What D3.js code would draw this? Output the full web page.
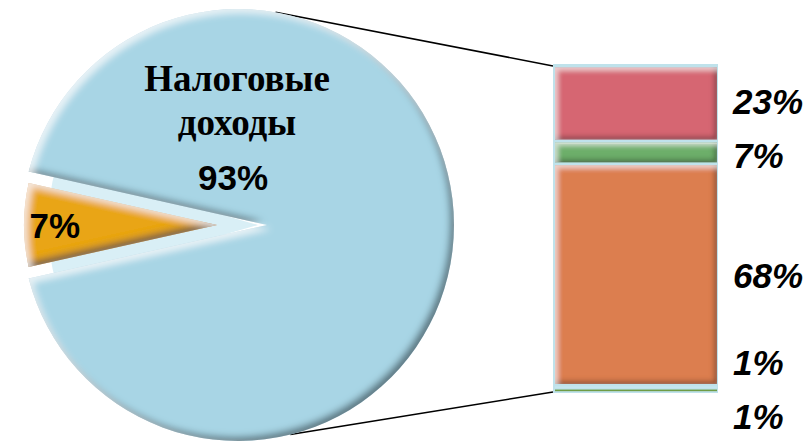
<!DOCTYPE html>
<html>
<head>
<meta charset="utf-8">
<script src="https://cdn.jsdelivr.net/npm/d3@7"></script>
<style>
  body { margin: 0; background: #fff; }
  text { font-family: "Liberation Sans", Arial, sans-serif; font-weight: bold; fill: #000; }
</style>
</head>
<body>
<svg id="chart" width="812" height="442"></svg>
<script>
// pie: tax vs non-tax revenue
var pieNames = ["Налоговые доходы", "Неналоговые доходы"];
var pieValues = [93, 7];
var pieColors = ["#a8d5e5", "#e9a516"];

// bar: breakdown of the 7% slice
var barValues = [23, 7, 68, 1, 1];
var barLabels = ["23%", "7%", "68%", "1%", "1%"];
var barColors = ["#d66672", "#6daf6b", "#dc7e4f", "#c6e6ef", "#6f9c45"];

var svg = d3.select("#chart");
var defs = svg.append("defs");

// soft bevel: dark rim bottom-right, light rim top-left
function bevel(id, blur, off, dark, darkOp, lightOp) {
  var f = defs.append("filter").attr("id", id)
    .attr("x", "-5%").attr("y", "-5%").attr("width", "110%").attr("height", "110%");
  f.append("feGaussianBlur").attr("in", "SourceAlpha").attr("stdDeviation", blur).attr("result", "b");
  f.append("feOffset").attr("in", "b").attr("dx", -off).attr("dy", -off).attr("result", "o1");
  f.append("feComposite").attr("in", "SourceAlpha").attr("in2", "o1").attr("operator", "out").attr("result", "m1");
  f.append("feFlood").attr("flood-color", dark).attr("flood-opacity", darkOp).attr("result", "c1");
  f.append("feComposite").attr("in", "c1").attr("in2", "m1").attr("operator", "in").attr("result", "s1");
  f.append("feOffset").attr("in", "b").attr("dx", off).attr("dy", off).attr("result", "o2");
  f.append("feComposite").attr("in", "SourceAlpha").attr("in2", "o2").attr("operator", "out").attr("result", "m2");
  f.append("feFlood").attr("flood-color", "#ffffff").attr("flood-opacity", lightOp).attr("result", "c2");
  f.append("feComposite").attr("in", "c2").attr("in2", "m2").attr("operator", "in").attr("result", "s2");
  var m = f.append("feMerge");
  m.append("feMergeNode").attr("in", "SourceGraphic");
  m.append("feMergeNode").attr("in", "s1");
  m.append("feMergeNode").attr("in", "s2");
}
bevel("bevelPie", 3.5, 4, "#2a3f48", 0.8, 0.7);
bevel("bevelBar", 2.5, 3, "#1a1a1a", 0.6, 0.55);

// ---- pie ----
var cx = 238, cy = 225, R = 216;
var share = pieValues[1] / 100;
var pie = d3.pie().sort(null)
  .startAngle(-Math.PI / 2 + Math.PI * share)
  .endAngle(3 * Math.PI / 2 + Math.PI * share);
var arcs = pie(pieValues);
var pad = 0.03;
var shift = [29, 21];

function midDir(a) {
  var m = (a.startAngle + a.endAngle) / 2;
  return [Math.sin(m), -Math.cos(m)];
}

// connector lines (pie top / bottom to the bar corners)
var y = d3.scaleLinear().domain([0, 100]).range([66, 392]);
var barX0 = 553, barX1 = 718;
var tTop = -80 * Math.PI / 180, tBot = 76 * Math.PI / 180;
svg.append("line")
  .attr("x1", cx + R * Math.cos(tTop)).attr("y1", cy + R * Math.sin(tTop))
  .attr("x2", barX0).attr("y2", y(0))
  .attr("stroke", "#000").attr("stroke-width", 1.6);
svg.append("line")
  .attr("x1", cx + R * Math.cos(tBot)).attr("y1", cy + R * Math.sin(tBot))
  .attr("x2", barX0).attr("y2", y(100))
  .attr("stroke", "#000").attr("stroke-width", 1.6);

// light backing behind the gap between the slices
svg.append("path")
  .attr("d", d3.arc().innerRadius(0).outerRadius(R - 6)({ startAngle: arcs[1].startAngle - 0.06, endAngle: arcs[1].endAngle + 0.06 }))
  .attr("transform", "translate(" + (cx + 20) + "," + cy + ")")
  .attr("fill", "#d9eff6");

// big slice: arc on the circle, edges meet at a shifted notch
var a0 = arcs[0];
var d0 = midDir(a0);
var nx = cx + d0[0] * shift[0], ny = cy + d0[1] * shift[0];
var t0 = a0.startAngle + pad - Math.PI / 2, t1 = a0.endAngle - pad - Math.PI / 2;
var p = d3.path();
p.moveTo(nx, ny);
p.lineTo(cx + R * Math.cos(t0), cy + R * Math.sin(t0));
p.arc(cx, cy, R, t0, t1);
p.closePath();
svg.append("path").attr("d", p.toString())
  .attr("fill", pieColors[0]).attr("filter", "url(#bevelPie)");

// small slice, pulled out
var a1 = arcs[1];
var d1 = midDir(a1);
var ox = cx + d1[0] * shift[1], oy = cy + d1[1] * shift[1];
var Ro = R - shift[1] - 2;
var smallArc = d3.arc().innerRadius(0).outerRadius(Ro);
svg.append("path")
  .attr("transform", "translate(" + ox + "," + oy + ")")
  .attr("d", smallArc(a1))
  .attr("fill", pieColors[1]).attr("filter", "url(#bevelPie)");

// pie labels
var big = svg.append("g").attr("transform", "translate(" + cx + "," + cy + ")");
var nameWords = pieNames[0].split(" ");
big.selectAll("text.name").data(nameWords).enter().append("text")
  .attr("class", "name")
  .attr("x", -1)
  .attr("y", function(d, i) { return -134 + i * 44; })
  .attr("text-anchor", "middle")
  .style("font-family", "'Liberation Serif', 'Times New Roman', serif")
  .style("font-size", "37px")
  .text(function(d) { return d; });
big.append("text")
  .attr("x", -5).attr("y", -35)
  .attr("text-anchor", "middle")
  .style("font-size", "35px")
  .text(pieValues[0] + "%");

var lblArc = d3.arc().innerRadius(Ro * 0.84).outerRadius(Ro * 0.84);
var c1 = lblArc.centroid(a1);
svg.append("text")
  .attr("x", ox + c1[0]).attr("y", oy + c1[1] + 13)
  .attr("text-anchor", "middle")
  .style("font-size", "35px")
  .text(pieValues[1] + "%");

// ---- bar ----
var stack = [];
var acc = 0;
barValues.forEach(function(v, i) {
  stack.push({ i: i, v: v, y0: acc, y1: acc + v });
  acc += v;
});

svg.append("rect")
  .attr("x", barX0).attr("y", y(0) - 2)
  .attr("width", barX1 - barX0).attr("height", y(100) - y(0) + 3)
  .attr("fill", "#bfe2eb");

svg.selectAll("rect.seg").data(stack).enter().append("rect")
  .attr("class", "seg")
  .attr("x", barX0 + 2)
  .attr("width", barX1 - barX0 - 3)
  .attr("y", function(d) { var h = y(d.y1) - y(d.y0); return y(d.y0) + Math.min(1.5, h / 4); })
  .attr("height", function(d) { var h = y(d.y1) - y(d.y0); return h - 2 * Math.min(1.5, h / 4); })
  .attr("fill", function(d) { return barColors[d.i]; })
  .attr("filter", function(d) { return d.v > 3 ? "url(#bevelBar)" : null; });

// labels at segment centres, pushed apart where they would overlap
var ly = stack.map(function(d) { return (y(d.y0) + y(d.y1)) / 2; });
var minGap = 54;
for (var it = 0; it < 60; it++) {
  for (var k = 1; k < ly.length; k++) {
    var g = ly[k] - ly[k - 1];
    if (g < minGap) {
      ly[k - 1] -= (minGap - g) / 2;
      ly[k] += (minGap - g) / 2;
    }
  }
}
svg.selectAll("text.bl").data(barLabels).enter().append("text")
  .attr("class", "bl")
  .attr("x", 733)
  .attr("y", function(d, i) { return ly[i] + 13; })
  .style("font-size", "35px")
  .style("font-style", "italic")
  .text(function(d) { return d; });
</script>
</body>
</html>
